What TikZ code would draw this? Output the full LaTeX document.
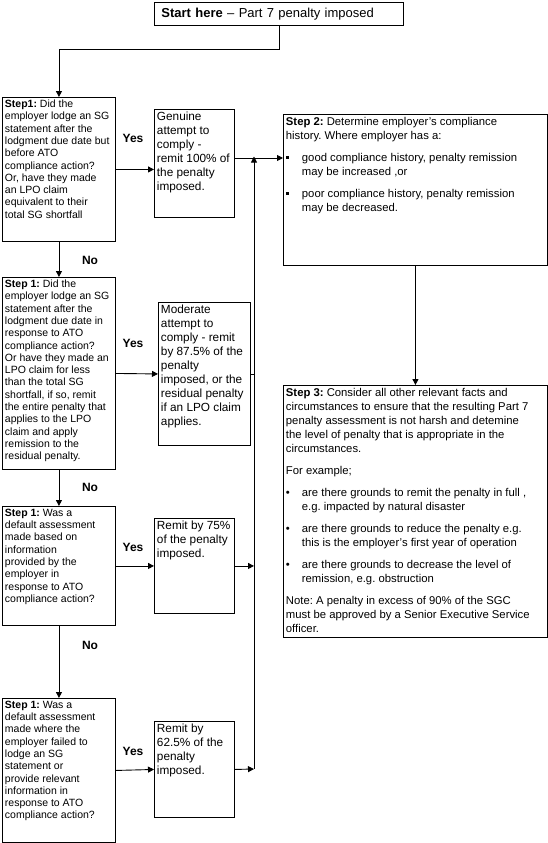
\documentclass[tikz,border=0pt]{standalone}
\usepackage{fontspec}
\setmainfont{Liberation Sans}
\usetikzlibrary{arrows.meta}
\newcommand{\boxtxt}[3]{\parbox[c][#2][t]{#1}{\raggedright\frenchspacing\parindent=0pt #3}}
\newcommand{\bul}[1]{\par\hangindent=16pt\hangafter=1\noindent\makebox[16pt][l]{#1}}
\newcommand{\sqb}{\rule[2.5pt]{3pt}{3pt}}
\begin{document}
\begin{tikzpicture}[x=1pt,y=-1pt,line width=0.9pt,
	>={Triangle[length=6pt,width=6pt]},
	box/.style={draw,anchor=north west,inner sep=2.5pt},
	qtxt/.style={font=\fontsize{10.5}{12.3}\selectfont},
	atxt/.style={font=\fontsize{11.8}{14}\selectfont},
	stxt/.style={font=\fontsize{11.3}{14}\selectfont},
	lbl/.style={font=\fontsize{12}{14}\selectfont\bfseries,inner sep=0pt}]
	
	\useasboundingbox[fill=white] (0,0) rectangle (548,843);
	\def\busx{254}
	
	\node[box,minimum width=249,minimum height=23,text width=235,inner xsep=7pt,inner ysep=0pt,align=left,font=\fontsize{13}{15}\selectfont] (start) at (154,2) {\textbf{Start here} -- Part 7 penalty imposed};
	
	% step 1 questions
	\node[box,qtxt] (q1) at (2,97) {\boxtxt{108pt}{139pt}{\textbf{Step1:} Did the\\employer lodge an SG\\statement after the\\lodgment due date but\\before ATO\\compliance action?\\Or, have they made\\an LPO claim\\equivalent to their\\total SG shortfall}};
	\node[box,qtxt] (q2) at (2,277) {\boxtxt{108pt}{187pt}{\textbf{Step 1:} Did the\\employer lodge an SG\\statement after the\\lodgment due date in\\response to ATO\\compliance action?\\Or have they made an\\LPO claim for less\\than the total SG\\shortfall, if so, remit\\the entire penalty that\\applies to the LPO\\claim and apply\\remission to the\\residual penalty.}};
	\node[box,qtxt] (q3) at (2,506) {\boxtxt{108pt}{114pt}{\textbf{Step 1:} Was a\\default assessment\\made based on\\information\\provided by the\\employer in\\response to ATO\\compliance action?}};
	\node[box,qtxt] (q4) at (2,698) {\boxtxt{108pt}{139pt}{\textbf{Step 1:} Was a\\default assessment\\made where the\\employer failed to\\lodge an SG\\statement or\\provide relevant\\information in\\response to ATO\\compliance action?}};
	
	% remission
	\node[box,atxt] (a1) at (154,109) {\boxtxt{75pt}{103pt}{Genuine\\attempt to\\comply -\\remit 100\% of\\the penalty\\imposed.}};
	\node[box,atxt] (a2) at (158,302) {\boxtxt{87pt}{138pt}{Moderate\\attempt to\\comply - remit\\by 87.5\% of the\\penalty\\imposed, or the\\residual penalty\\if an LPO claim\\applies.}};
	\node[box,atxt] (a3) at (154,518) {\boxtxt{75pt}{90pt}{Remit by 75\%\\of the penalty\\imposed.}};
	\node[box,atxt] (a4) at (154,721) {\boxtxt{75pt}{91pt}{Remit by\\62.5\% of the\\penalty\\imposed.}};
	
	% step 2 and 3
	\node[box,stxt] (s2) at (283,114) {\boxtxt{259pt}{146pt}{\parskip=8pt \textbf{Step 2:} Determine employer’s compliance\\history. Where employer has a:
		\bul{\sqb}good compliance history, penalty remission\newline may be increased ,or
		\bul{\sqb}poor compliance history, penalty remission\newline may be decreased.}};
	\node[box,stxt] (s3) at (283,385) {\boxtxt{259pt}{247pt}{\parskip=8pt \textbf{Step 3:} Consider all other relevant facts and\\circumstances to ensure that the resulting Part 7\\penalty assessment is not harsh and detemine\\the level of penalty that is appropriate in the\\circumstances.\par For example;
		\bul{•}are there grounds to remit the penalty in full ,\newline e.g. impacted by natural disaster
		\bul{•}are there grounds to reduce the penalty e.g.\newline this is the employer’s first year of operation
		\bul{•}are there grounds to decrease the level of\newline remission, e.g. obstruction\par
		Note: A penalty in excess of 90\% of the SGC\\must be approved by a Senior Executive Service\\officer.}};
	
	\foreach \y/\n in {138/1,343/2,547/3,751/4} \node[lbl] (yes\n) at (133,\y) {Yes};
	\foreach \y/\n in {260/1,487/2,645/3} \node[lbl] (no\n) at (90,\y) {No};
	
	\coordinate (join) at (\busx,158);
	\coordinate (bus) at (\busx,769);
	
	\draw[->] (start.south) -- ++(0,24) -| (q1.north);
	\foreach \a/\b in {q1/q2,q2/q3,q3/q4} \draw[->] (\a.south) -- (\b.north);
	\draw[->] (q1.east) -- (q1.east -| a1.west);
	\foreach \a/\b in {q2/a2,q3/a3,q4/a4} \draw[->] (\a.east) -- (\b.west);
	\draw[->] (a1.east |- join) -- (join -| s2.west);
	\draw[->] (bus) -- ([yshift=1.5pt]join);
	\draw (a2.east) -- (a2.east -| bus);
	\draw[->] (a3.east) -- (a3.east -| bus);
	\draw[->] (a4.east) -- (bus);
	\draw[->] (s2.south) -- (s3.north);
	
\end{tikzpicture}
\end{document}
